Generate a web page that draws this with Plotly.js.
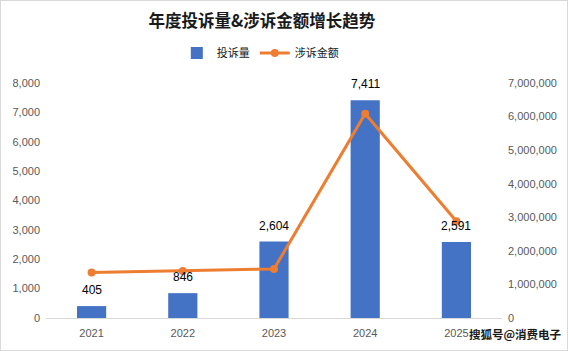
<!DOCTYPE html>
<html><head><meta charset="utf-8">
<script src="https://cdn.plot.ly/plotly-3.0.1.min.js"></script>
<style>html,body{margin:0;padding:0;background:#fff}#c{width:566px;height:349px;border:1px solid #d9d9d9}</style>
</head><body><div id="c"></div>
<script>
const years = [2021, 2022, 2023, 2024, 2025];
const yearLabels = ['2021','2022','2023','2024','2025'];
const complaints = [405, 846, 2604, 7411, 2591];
const amounts = [1358000, 1400000, 1460000, 6086000, 2880000];
const complaintLabels = ['405','846','2,604','7,411','2,591'];

const tickFont = {family:'Liberation Sans, Arial, sans-serif', size:11, color:'#595959'};
const data = [
  {type:'bar', name:'投诉量', x:years, y:complaints, marker:{color:'#4472C4'}, width:0.32, hoverinfo:'none'},
  {type:'scatter', mode:'lines+markers', name:'涉诉金额', x:years, y:amounts, yaxis:'y2',
   line:{color:'#ED7D31', width:3}, marker:{color:'#ED7D31', size:8}, hoverinfo:'none'}
];
const annotations = years.map((yr,i)=>({x:yr, y:complaints[i], xref:'x', yref:'y', text:complaintLabels[i],
  showarrow:false, yanchor:'bottom', yshift:7, font:{family:'Liberation Sans, Arial, sans-serif', size:12, color:'#000'}}));
annotations.push({xref:'paper', yref:'paper', x:1.134, y:-0.066, xanchor:'right', yanchor:'middle', showarrow:false,
  text:'<b>搜狐号@消费电子</b>', borderpad:0,
  font:{family:'Noto Sans CJK SC', size:11.5, color:'#1a1a1a'}});
const layout = {
  width:566, height:349, margin:{l:45, r:65, t:82, b:32},
  paper_bgcolor:'#fff', plot_bgcolor:'#fff',
  title:{text:'<b>年度投诉量&涉诉金额增长趋势</b>', x:0.461, xanchor:'center', y:0.942, yanchor:'middle',
    font:{family:'Noto Sans CJK SC', size:16.5, color:'#1a1a1a'}},
  showlegend:true,
  legend:{orientation:'h', x:0.47, xanchor:'center', y:1.128, yanchor:'middle',
    font:{family:'Noto Sans CJK SC', size:11, color:'#1a1a1a'}},
  xaxis:{type:'linear', range:[2020.5, 2025.5], tickvals:years, ticktext:yearLabels, showgrid:false,
    zeroline:false, showline:true, linecolor:'#d9d9d9', linewidth:1, ticks:'',
    tickfont:tickFont, ticklabelstandoff:5},
  yaxis:{range:[0,8000], dtick:1000, tickformat:',d', showgrid:false, zeroline:false, showline:false, ticks:'',
    tickfont:tickFont, ticklabelstandoff:5},
  yaxis2:{range:[0,7000000], dtick:1000000, tickformat:',d', overlaying:'y', side:'right', showgrid:false,
    zeroline:false, showline:false, ticks:'', tickfont:tickFont, ticklabelstandoff:5},
  annotations:annotations
};
Plotly.newPlot('c', data, layout, {displayModeBar:false, staticPlot:true});
</script></body></html>
